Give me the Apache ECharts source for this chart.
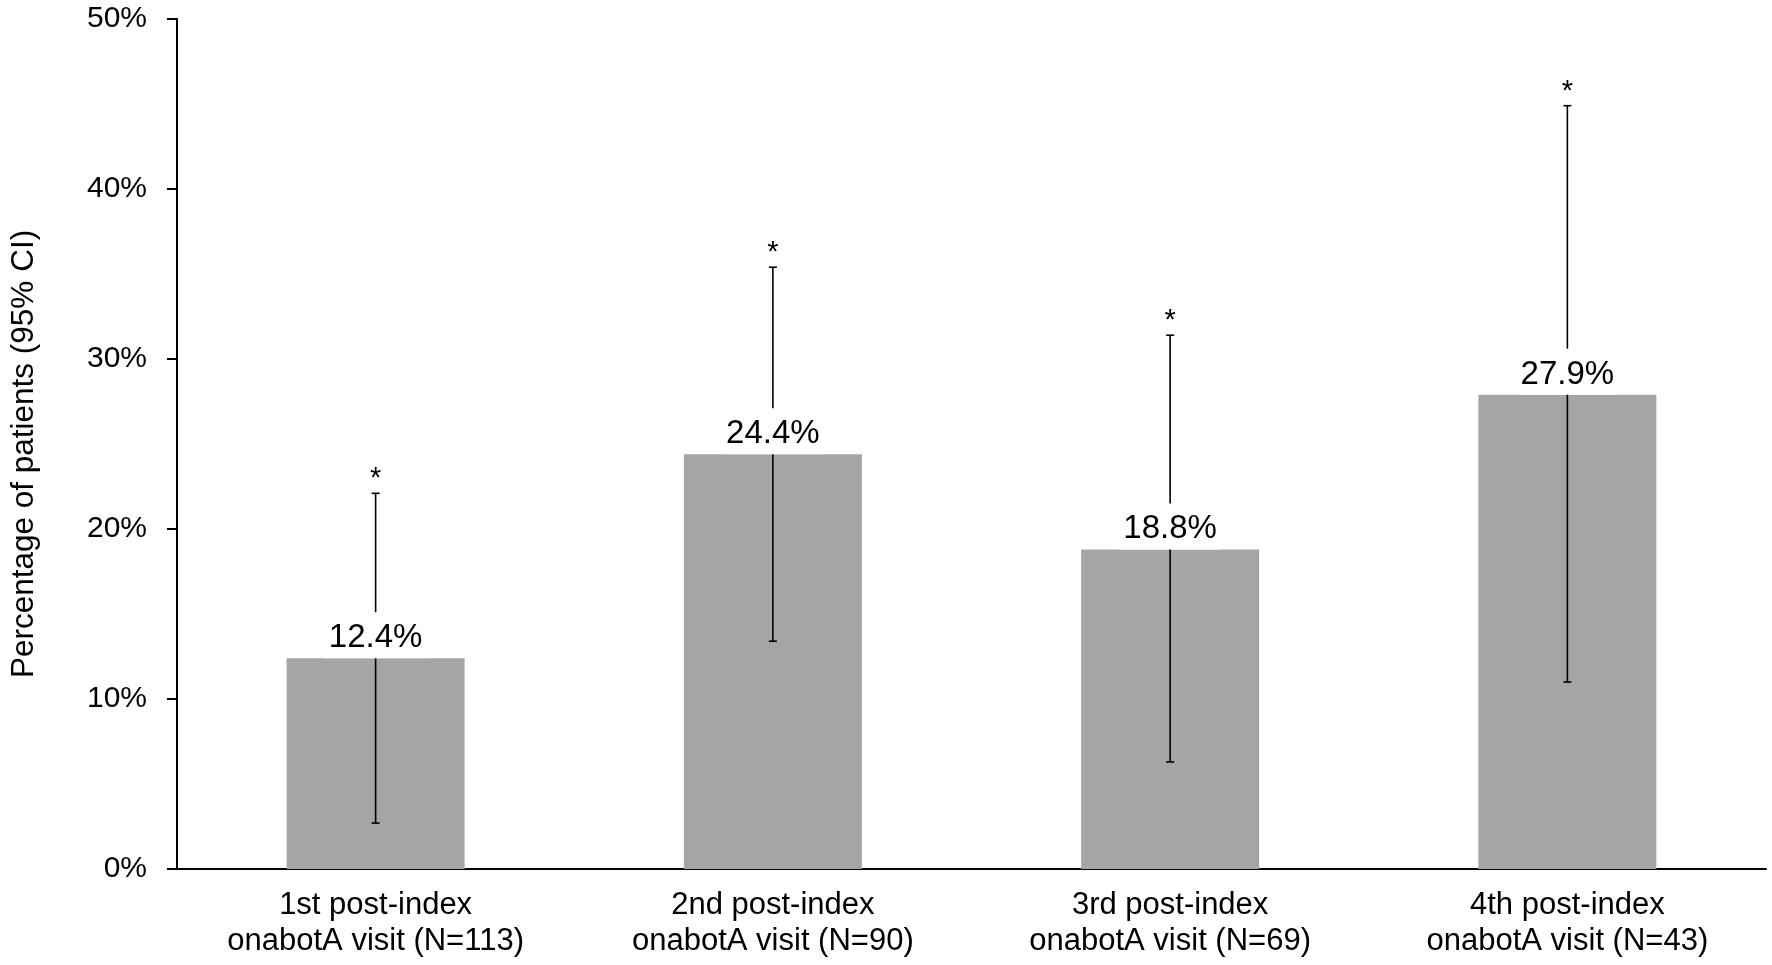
<!DOCTYPE html>
<html>
<head>
<meta charset="utf-8">
<script src="https://cdn.jsdelivr.net/npm/echarts@6/dist/echarts.min.js"></script>
<style>
html,body{margin:0;padding:0;background:#fff;}
#chart{width:1772px;height:965px;}
</style>
</head>
<body>
<div id="chart"></div>
<script>
const categories = [
  '1st post-index\nonabotA visit (N=113)',
  '2nd post-index\nonabotA visit (N=90)',
  '3rd post-index\nonabotA visit (N=69)',
  '4th post-index\nonabotA visit (N=43)'
];
const values = [12.4, 24.4, 18.8, 27.9];
const ciLower = [2.7, 13.4, 6.3, 11.0];
const ciUpper = [22.1, 35.4, 31.4, 44.9];
const significance = ['*', '*', '*', '*'];
const yAxisTitle = 'Percentage of patients (95% CI)';

const FONT = '"Liberation Sans", Arial, Helvetica, sans-serif';

const errData = categories.map((c, i) => [i, values[i], ciLower[i], ciUpper[i]]);

const chart = echarts.init(document.getElementById('chart'));
chart.setOption({
  backgroundColor: '#fff',
  animation: false,
  textStyle: { fontFamily: FONT },
  grid: { left: 172, right: 6, top: 19, bottom: 96, containLabel: false },
  xAxis: {
    type: 'category',
    data: categories,
    axisLine: { lineStyle: { color: '#000', width: 2 } },
    axisTick: { show: false },
    axisLabel: { color: '#000', fontSize: 31, fontFamily: FONT, lineHeight: 36, margin: 18 },
    splitLine: { show: false }
  },
  yAxis: {
    type: 'value',
    min: 0, max: 50, interval: 10,
    name: yAxisTitle,
    nameLocation: 'middle',
    nameGap: 137,
    nameTextStyle: { color: '#000', fontSize: 31.5, fontFamily: FONT, padding: [0, 20, 0, 0] },
    axisLine: { show: true, lineStyle: { color: '#000', width: 2 } },
    axisTick: { show: true, inside: false, length: 10, lineStyle: { color: '#000', width: 2 } },
    axisLabel: { color: '#000', fontSize: 30, fontFamily: FONT, margin: 30, formatter: '{value}%' },
    splitLine: { show: false }
  },
  series: [
    {
      type: 'bar',
      data: values,
      barWidth: 178,
      itemStyle: { color: '#a5a5a5' },
      z: 2
    },
    {
      type: 'custom',
      data: errData,
      z: 3,
      renderItem: function (params, api) {
        const idx = api.value(0);
        const v = api.value(1), lo = api.value(2), hi = api.value(3);
        const pLo = api.coord([idx, lo]);
        const pHi = api.coord([idx, hi]);
        const pV = api.coord([idx, v]);
        const cap = 4;
        const ls = { stroke: '#000', lineWidth: 1.6 };
        return {
          type: 'group',
          children: [
            { type: 'line', shape: { x1: pLo[0], y1: pLo[1], x2: pHi[0], y2: pHi[1] }, style: ls },
            { type: 'line', shape: { x1: pLo[0] - cap, y1: pLo[1], x2: pLo[0] + cap, y2: pLo[1] }, style: ls },
            { type: 'line', shape: { x1: pHi[0] - cap, y1: pHi[1], x2: pHi[0] + cap, y2: pHi[1] }, style: ls },
            { type: 'text', style: {
                text: values[idx].toFixed(1) + '%', x: pV[0], y: pV[1],
                align: 'center', verticalAlign: 'bottom',
                fontSize: 33, fontFamily: FONT, fill: '#000',
                lineHeight: 34, backgroundColor: '#fff', padding: [9, 4, 3, 4]
              } },
            { type: 'text', style: {
                text: significance[idx], x: pHi[0], y: pHi[1] - 14,
                align: 'center', verticalAlign: 'middle',
                fontSize: 29, fontFamily: FONT, fill: '#000'
              } }
          ]
        };
      }
    }
  ]
});
</script>
</body>
</html>
